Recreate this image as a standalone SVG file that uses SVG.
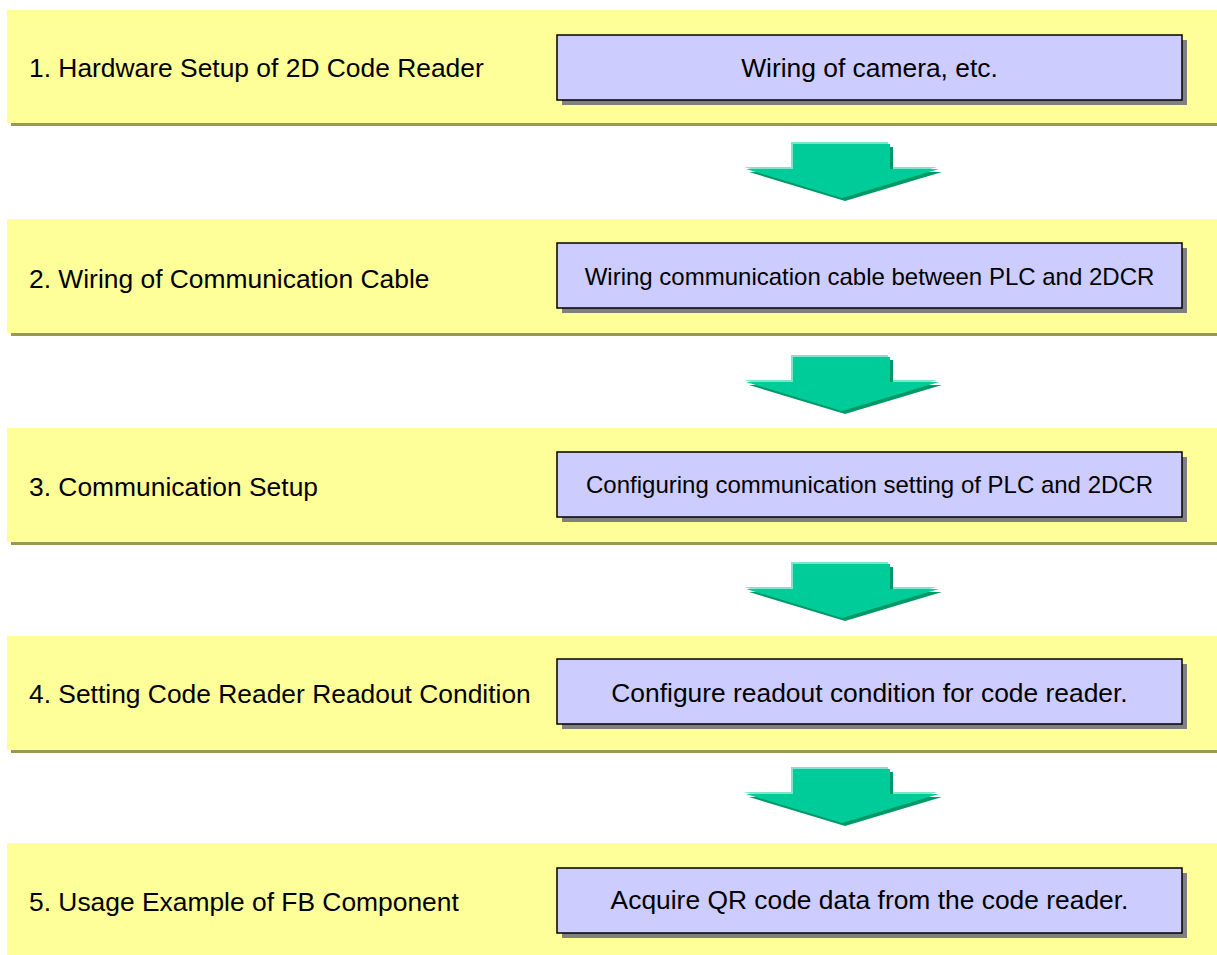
<svg xmlns="http://www.w3.org/2000/svg" xmlns:xlink="http://www.w3.org/1999/xlink" width="1217" height="955" viewBox="0 0 1217 955">
<style>
.band{fill:#FFFF99}
.bandsh{fill:#999955}
.box{fill:#CCCCFF;stroke:#000;stroke-width:1.5}
.boxsh{fill:#808080}
.lbl{font-family:"Liberation Sans",Arial,sans-serif;font-size:26.4px;fill:#000}
.bt{font-family:"Liberation Sans",Arial,sans-serif;font-size:26.4px;fill:#000;text-anchor:middle}
.bts{font-size:24px}
</style>
<defs>
<g id="arrow">
<polygon points="793,2 890,2 890,27 939,27 842,56 746,27 793,27" fill="#80E5C8" transform="translate(-2,-2)"/>
<polygon points="793,2 890,2 890,27 939,27 842,56 746,27 793,27" fill="#009966" transform="translate(3,3)"/>
<polygon points="793,2 890,2 890,27 939,27 842,56 746,27 793,27" fill="#00CC99"/>
</g>
</defs>
<rect width="1217" height="955" fill="#fff"/>
<g id="step1">
<rect class="bandsh" x="11" y="13" width="1210" height="113"/>
<rect class="band" x="7" y="10" width="1214" height="113"/>
<text class="lbl" x="29" y="77">1. Hardware Setup of 2D Code Reader</text>
<rect class="boxsh" x="562" y="40" width="625" height="65"/>
<rect class="box" x="557" y="35" width="625" height="65"/>
<text class="bt" x="869.5" y="77">Wiring of camera, etc.</text>
</g>
<g id="step2">
<rect class="bandsh" x="11" y="222" width="1210" height="114"/>
<rect class="band" x="7" y="219" width="1214" height="114"/>
<text class="lbl" x="29" y="288">2. Wiring of Communication Cable</text>
<rect class="boxsh" x="562" y="248" width="625" height="65"/>
<rect class="box" x="557" y="243" width="625" height="65"/>
<text class="bt bts" x="869.5" y="285">Wiring communication cable between PLC and 2DCR</text>
</g>
<g id="step3">
<rect class="bandsh" x="11" y="431" width="1210" height="114"/>
<rect class="band" x="7" y="428" width="1214" height="114"/>
<text class="lbl" x="29" y="496">3. Communication Setup</text>
<rect class="boxsh" x="562" y="457" width="625" height="65"/>
<rect class="box" x="557" y="452" width="625" height="65"/>
<text class="bt bts" x="869.5" y="493">Configuring communication setting of PLC and 2DCR</text>
</g>
<g id="step4">
<rect class="bandsh" x="11" y="639" width="1210" height="114"/>
<rect class="band" x="7" y="636" width="1214" height="114"/>
<text class="lbl" x="29" y="703">4. Setting Code Reader Readout Condition</text>
<rect class="boxsh" x="562" y="664" width="625" height="65"/>
<rect class="box" x="557" y="659" width="625" height="65"/>
<text class="bt" x="869.5" y="702">Configure readout condition for code reader.</text>
</g>
<g id="step5">
<rect class="band" x="7" y="843" width="1214" height="120"/>
<text class="lbl" x="29" y="911">5. Usage Example of FB Component</text>
<rect class="boxsh" x="562" y="873" width="625" height="65"/>
<rect class="box" x="557" y="868" width="625" height="65"/>
<text class="bt" x="869.5" y="909">Acquire QR code data from the code reader.</text>
</g>
<g id="connectors">
<use xlink:href="#arrow" transform="translate(0,142)"/>
<use xlink:href="#arrow" transform="translate(0,355)"/>
<use xlink:href="#arrow" transform="translate(0,562)"/>
<use xlink:href="#arrow" transform="translate(0,767)"/>
</g>
</svg>
